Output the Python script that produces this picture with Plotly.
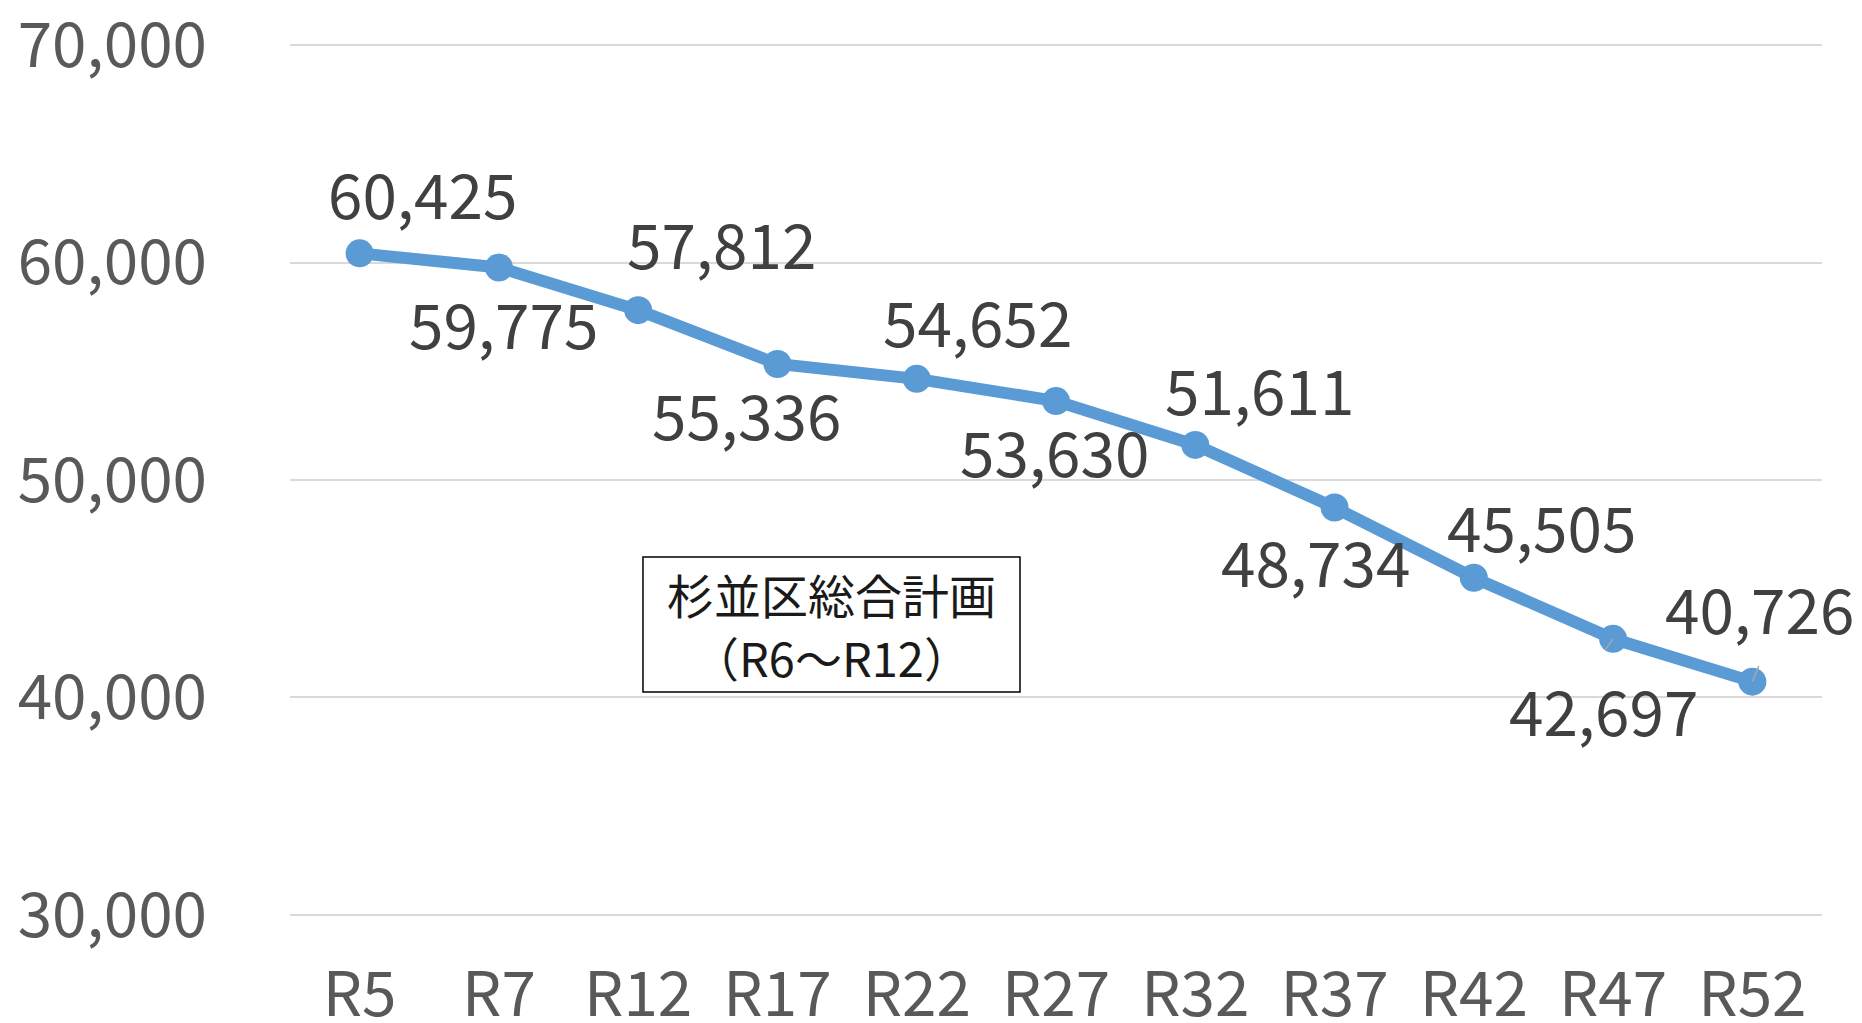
import plotly.graph_objects as go

# 年度と人口（人）
years = ["R5", "R7", "R12", "R17", "R22", "R27", "R32", "R37", "R42", "R47", "R52"]
population = [60425, 59775, 57812, 55336, 54652, 53630, 51611, 48734, 45505, 42697, 40726]
y_ticks = [30000, 40000, 50000, 60000, 70000]

# ラベルのずらし量（px）: 各点からの (右, 上)
label_dx = [63, 5, 83, -31, 61, -2, 64, -19, 68, -10, 7]
label_dy = [61, -55, 68, -49, 59, -49, 57, -52, 53, -70, 75]

# 注記ボックスの文言
note_lines = ["杉並区総合計画", "（R6～R12）"]

LINE_BLUE = "#5B9BD5"
FONT = "Noto Sans CJK JP"

fig = go.Figure()
fig.add_trace(go.Scatter(
    x=years,
    y=population,
    mode="lines+markers",
    line=dict(color=LINE_BLUE, width=12),
    marker=dict(color=LINE_BLUE, size=28),
    hoverinfo="skip",
    showlegend=False,
))

annotations = []
for yr, val, dx, dy in zip(years, population, label_dx, label_dy):
    annotations.append(dict(
        x=yr, y=val, xref="x", yref="y",
        text=f"{val:,}", showarrow=False,
        xshift=dx, yshift=dy,
        font=dict(family=FONT, size=62, color="#404040"),
    ))

# 引き出し線（R47, R52）
for yr, val, ax, ay in [("R47", 42697, -9, 13), ("R52", 40726, 7, -17)]:
    annotations.append(dict(
        x=yr, y=val, xref="x", yref="y", text="",
        showarrow=True, arrowhead=0, arrowwidth=1.5, arrowcolor="#a6a6a6",
        ax=ax, ay=ay, standoff=0, startstandoff=0,
    ))

# 計画期間の注記ボックス（枠＋2行の文字）
box_x0, box_x1 = 0.2304, 0.4765
box_y0, box_y1 = 40250, 46460
fig.add_shape(
    type="rect", xref="paper", yref="y",
    x0=box_x0, x1=box_x1, y0=box_y0, y1=box_y1,
    line=dict(color="#000000", width=1.5),
    fillcolor="#ffffff", layer="above",
)
for line_text, line_y in zip(note_lines, [44780, 41890]):
    annotations.append(dict(
        x=(box_x0 + box_x1) / 2, y=line_y, xref="paper", yref="y",
        text=line_text, showarrow=False,
        font=dict(family=FONT, size=47, color="#1a1a1a"),
        xanchor="center", yanchor="middle",
    ))

fig.update_layout(
    width=1862, height=1023,
    margin=dict(l=290, r=40, t=43, b=106),
    paper_bgcolor="#ffffff",
    plot_bgcolor="#ffffff",
    annotations=annotations,
    xaxis=dict(
        type="category",
        range=[-0.5, len(years) - 0.5],
        showgrid=False, showline=False, zeroline=False,
        ticks="", ticklabelstandoff=36,
        tickfont=dict(family=FONT, size=62, color="#595959"),
        automargin=False,
        fixedrange=True,
    ),
    yaxis=dict(
        range=[29900, 70100],
        tickvals=y_ticks,
        ticktext=[f"{v:,}" for v in y_ticks],
        showgrid=True, gridcolor="#d9d9d9", gridwidth=1.5,
        showline=False, zeroline=False,
        ticks="", ticklabelstandoff=82,
        ticklabeloverflow="allow",
        tickfont=dict(family=FONT, size=62, color="#595959"),
        automargin=False,
        fixedrange=True,
    ),
)

fig.write_html("out.html", config={"displayModeBar": False})
